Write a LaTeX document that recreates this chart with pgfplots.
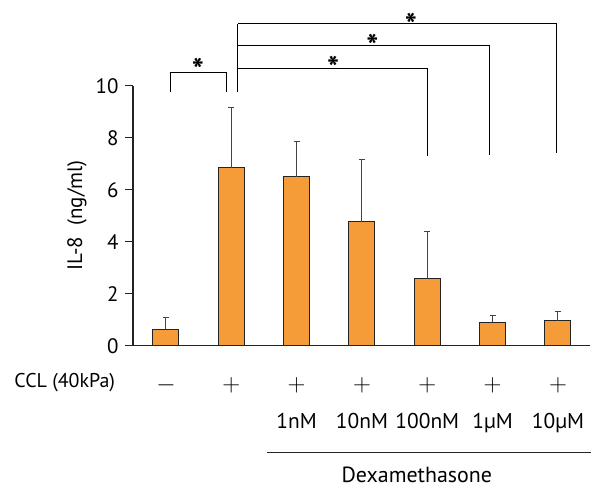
\documentclass[border=0pt]{standalone}
\usepackage{pgfplots}
\pgfplotsset{compat=1.18}
\usepackage{fontspec}
\setmainfont{PT Sans}
\definecolor{barfill}{RGB}{245,155,56}
\definecolor{edge}{RGB}{35,35,35}
\newcommand{\pl}{\fontsize{25}{25}\selectfont$+$}
\newcommand{\mi}{\fontsize{25}{25}\selectfont$-$}
\newcommand{\cl}[1]{{\fontsize{21.5}{22}\selectfont #1}}
\begin{document}
\begin{tikzpicture}
\useasboundingbox (-133bp,-142.3bp) rectangle (458bp,345.7bp);
\begin{axis}[
  at={(0,0)}, anchor=south west,
  scale only axis, width=457bp, height=260bp,
  xmin=-0.505, xmax=6.49, ymin=0, ymax=10,
  axis x line*=bottom, axis y line*=left,
  axis line style={-, line width=1.1pt, color=edge},
  clip=false,
  ytick={0,2,4,6,8,10},
  ytick style={line width=1.1pt, color=edge},
  tick align=outside, major tick length=8bp,
  xtick={0,1,2,3,4,5,6}, xtick style={draw=none},
  xticklabels={{\mi}, {\pl}, {\pl\\[15bp]\cl{1nM}}, {\pl\\[15bp]\cl{10nM}}, {\pl\\[15bp]\cl{100nM}}, {\pl\\[15bp]\cl{1µM}}, {\pl\\[15bp]\cl{10µM}}},
  xticklabel style={align=center, anchor=north, yshift=-20bp, font=\fontsize{19.5}{22}\selectfont},
  yticklabel style={font=\fontsize{21}{22}\selectfont, xshift=-3bp},
  /pgf/number format/assume math mode=true,
  ylabel={IL-8~~(ng/ml)},
  ylabel style={font=\fontsize{21}{22}\selectfont, at={(axis description cs:-0.1225,0.5)}, anchor=center},
]
\addplot[ybar, bar width=26bp, fill=barfill, draw=edge, line width=1pt,
  error bars/.cd, y dir=plus, y explicit,
  error bar style={line width=1pt, color=edge!85},
  error mark options={rotate=90, mark size=3bp, line width=1pt}]
  table[x=x, y=y, y error=e] {
x y e
0 0.63 0.45
1 6.85 2.33
2 6.49 1.37
3 4.77 2.41
4 2.58 1.83
5 0.91 0.24
6 0.96 0.34
};
% significance brackets
\draw[line width=0.8pt, black] (axis cs:0.07,9.77) -- (axis cs:0.07,10.5) -- (axis cs:0.93,10.5) -- (axis cs:0.93,9.77);
\draw[line width=0.8pt, black] (axis cs:1.1,9.77) -- (axis cs:1.1,12.38);
\draw[line width=0.8pt, black] (axis cs:1.1,12.38) -- (axis cs:5.97,12.38) -- (axis cs:5.97,7.42);
\draw[line width=0.8pt, black] (axis cs:1.1,11.54) -- (axis cs:4.95,11.54) -- (axis cs:4.95,7.33);
\draw[line width=0.8pt, black] (axis cs:1.1,10.68) -- (axis cs:4.0,10.68) -- (axis cs:4.0,7.30);
\node[font=\fontsize{32}{32}\selectfont\bfseries, yshift=-8bp] at (axis cs:0.49,10.92) {*};
\node[font=\fontsize{32}{32}\selectfont\bfseries, yshift=-8bp] at (axis cs:3.75,12.65) {*};
\node[font=\fontsize{32}{32}\selectfont\bfseries, yshift=-8bp] at (axis cs:3.16,11.85) {*};
\node[font=\fontsize{32}{32}\selectfont\bfseries, yshift=-8bp] at (axis cs:2.56,10.98) {*};
% row label and dexamethasone group
\node[font=\fontsize{20}{22}\selectfont] at (axis cs:-1.55,-1.43) {CCL (40kPa)};
\draw[line width=1pt, edge] (axis cs:1.55,-4.115) -- (axis cs:6.51,-4.115);
\node[font=\fontsize{22}{22}\selectfont, inner sep=0pt, anchor=base] at (axis cs:3.84,-5.28) {Dexamethasone};
\end{axis}
\end{tikzpicture}
\end{document}
